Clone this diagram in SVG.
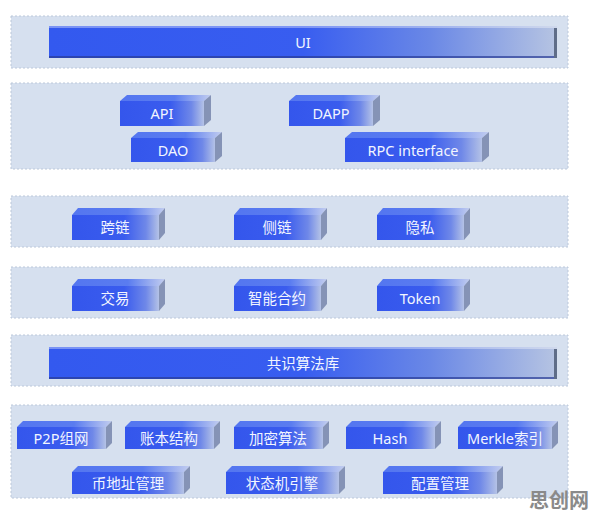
<svg xmlns="http://www.w3.org/2000/svg" width="596" height="519" viewBox="0 0 596 519">
<defs>
<linearGradient id="gFront" x1="0" y1="0" x2="1" y2="0">
<stop offset="0" stop-color="#3456ec"/>
<stop offset="0.6" stop-color="#3a5cee"/>
<stop offset="0.85" stop-color="#6f88e8"/>
<stop offset="1" stop-color="#b4c2e6"/>
</linearGradient>
<linearGradient id="gTop" x1="0" y1="0" x2="1" y2="0">
<stop offset="0" stop-color="#5476f0"/>
<stop offset="0.6" stop-color="#5a7cf0"/>
<stop offset="1" stop-color="#c2cdef"/>
</linearGradient>
<linearGradient id="gBar" x1="0" y1="0" x2="1" y2="0">
<stop offset="0" stop-color="#3359ef"/>
<stop offset="0.5" stop-color="#385df0"/>
<stop offset="0.75" stop-color="#6a88e6"/>
<stop offset="1" stop-color="#b6c4e2"/>
</linearGradient>
<style>
.panel{fill:#d6e0ef;stroke:#bcc8da;stroke-width:1;stroke-dasharray:2 2}
.front{fill:url(#gFront)}
.top{fill:url(#gTop)}
.side{fill:#8593b6}
.bar{fill:url(#gBar)}
.lbl{font-family:"Noto Sans","Noto Sans CJK SC",sans-serif;font-size:14.5px;fill:#f2f5ff;text-anchor:middle;dominant-baseline:central}
.wm{font-family:"Noto Sans CJK SC",sans-serif;font-size:20px;font-weight:bold;fill:#8a8a8a}
</style>
</defs>
<rect width="596" height="519" fill="#ffffff"/>

<!-- panels -->
<g id="layers">
<rect class="panel" x="11" y="16" width="557" height="52"/>
<rect class="panel" x="11" y="83" width="557" height="86"/>
<rect class="panel" x="11" y="196" width="557" height="51"/>
<rect class="panel" x="11" y="267" width="557" height="51"/>
<rect class="panel" x="11" y="335" width="557" height="51"/>
<rect class="panel" x="11" y="405" width="557" height="93"/>
</g>

<g id="ui">
<rect class="bar" x="49" y="26" width="508" height="32"/>
<rect x="49" y="26" width="508" height="2" fill="#ffffff" opacity="0.35"/>
<rect x="49" y="56" width="508" height="2" fill="#2a3c96" opacity="0.7"/>
<rect x="554" y="28" width="3" height="30" fill="#5f6d88"/>
<text class="lbl" x="303" y="42">UI</text>
</g>

<g id="consensus">
<rect class="bar" x="49" y="347" width="508" height="32"/>
<rect x="49" y="347" width="508" height="2" fill="#ffffff" opacity="0.35"/>
<rect x="49" y="377" width="508" height="2" fill="#2a3c96" opacity="0.7"/>
<rect x="554" y="349" width="3" height="30" fill="#5f6d88"/>
<text class="lbl" x="303" y="363">共识算法库</text>
</g>

<!-- layer 2 -->
<g id="api">
<polygon class="top" points="120,101 127,95 211,95 204,101"/>
<polygon class="side" points="204,101 211,95 211,120 204,126"/>
<rect class="front" x="120" y="101" width="84" height="25"/>
<text class="lbl" x="162" y="113">API</text>
</g>
<g id="dapp">
<polygon class="top" points="289,101 296,95 380,95 373,101"/>
<polygon class="side" points="373,101 380,95 380,120 373,126"/>
<rect class="front" x="289" y="101" width="84" height="25"/>
<text class="lbl" x="331" y="113">DAPP</text>
</g>
<g id="dao">
<polygon class="top" points="131,138 138,132 222,132 215,138"/>
<polygon class="side" points="215,138 222,132 222,156 215,162"/>
<rect class="front" x="131" y="138" width="84" height="24"/>
<text class="lbl" x="173" y="150">DAO</text>
</g>
<g id="rpc">
<polygon class="top" points="345,138 352,132 489,132 482,138"/>
<polygon class="side" points="482,138 489,132 489,156 482,162"/>
<rect class="front" x="345" y="138" width="137" height="24"/>
<text class="lbl" x="413" y="150">RPC interface</text>
</g>

<!-- layer 3 -->
<g id="crosschain">
<polygon class="top" points="72,215 78,208 165,208 159,215"/>
<polygon class="side" points="159,215 165,208 165,233 159,240"/>
<rect class="front" x="72" y="215" width="87" height="25"/>
<text class="lbl" x="115" y="227">跨链</text>
</g>
<g id="sidechain">
<polygon class="top" points="234,215 240,208 327,208 321,215"/>
<polygon class="side" points="321,215 327,208 327,233 321,240"/>
<rect class="front" x="234" y="215" width="87" height="25"/>
<text class="lbl" x="277" y="227">侧链</text>
</g>
<g id="privacy">
<polygon class="top" points="377,215 383,208 470,208 464,215"/>
<polygon class="side" points="464,215 470,208 470,233 464,240"/>
<rect class="front" x="377" y="215" width="87" height="25"/>
<text class="lbl" x="420" y="227">隐私</text>
</g>

<!-- layer 4 -->
<g id="trade">
<polygon class="top" points="72,286 78,279 165,279 159,286"/>
<polygon class="side" points="159,286 165,279 165,304 159,311"/>
<rect class="front" x="72" y="286" width="87" height="25"/>
<text class="lbl" x="115" y="298">交易</text>
</g>
<g id="contract">
<polygon class="top" points="234,286 240,279 327,279 321,286"/>
<polygon class="side" points="321,286 327,279 327,304 321,311"/>
<rect class="front" x="234" y="286" width="87" height="25"/>
<text class="lbl" x="277" y="298">智能合约</text>
</g>
<g id="token">
<polygon class="top" points="377,286 383,279 470,279 464,286"/>
<polygon class="side" points="464,286 470,279 470,304 464,311"/>
<rect class="front" x="377" y="286" width="87" height="25"/>
<text class="lbl" x="420" y="298">Token</text>
</g>

<!-- layer 6 row 1 -->
<g id="p2p">
<polygon class="top" points="17,427 23,421 112,421 106,427"/>
<polygon class="side" points="106,427 112,421 112,443 106,449"/>
<rect class="front" x="17" y="427" width="89" height="22"/>
<text class="lbl" x="61" y="438">P2P组网</text>
</g>
<g id="ledger">
<polygon class="top" points="125,427 131,421 220,421 214,427"/>
<polygon class="side" points="214,427 220,421 220,443 214,449"/>
<rect class="front" x="125" y="427" width="89" height="22"/>
<text class="lbl" x="169" y="438">账本结构</text>
</g>
<g id="crypto">
<polygon class="top" points="234,427 240,421 329,421 323,427"/>
<polygon class="side" points="323,427 329,421 329,443 323,449"/>
<rect class="front" x="234" y="427" width="89" height="22"/>
<text class="lbl" x="278" y="438">加密算法</text>
</g>
<g id="hash">
<polygon class="top" points="346,427 352,421 441,421 435,427"/>
<polygon class="side" points="435,427 441,421 441,443 435,449"/>
<rect class="front" x="346" y="427" width="89" height="22"/>
<text class="lbl" x="390" y="438">Hash</text>
</g>
<g id="merkle">
<polygon class="top" points="458,427 464,421 558,421 552,427"/>
<polygon class="side" points="552,427 558,421 558,443 552,449"/>
<rect class="front" x="458" y="427" width="94" height="22"/>
<text class="lbl" x="505" y="438">Merkle索引</text>
</g>

<!-- layer 6 row 2 -->
<g id="address">
<polygon class="top" points="72,472 78,466 190,466 184,472"/>
<polygon class="side" points="184,472 190,466 190,488 184,494"/>
<rect class="front" x="72" y="472" width="112" height="22"/>
<text class="lbl" x="128" y="483">币地址管理</text>
</g>
<g id="statemachine">
<polygon class="top" points="226,472 232,466 345,466 339,472"/>
<polygon class="side" points="339,472 345,466 345,488 339,494"/>
<rect class="front" x="226" y="472" width="113" height="22"/>
<text class="lbl" x="282" y="483">状态机引擎</text>
</g>
<g id="config">
<polygon class="top" points="383,472 389,466 503,466 497,472"/>
<polygon class="side" points="497,472 503,466 503,488 497,494"/>
<rect class="front" x="383" y="472" width="114" height="22"/>
<text class="lbl" x="440" y="483">配置管理</text>
</g>

<g id="connectors"></g>

<text class="wm" x="529" y="508">思创网</text>
</svg>
